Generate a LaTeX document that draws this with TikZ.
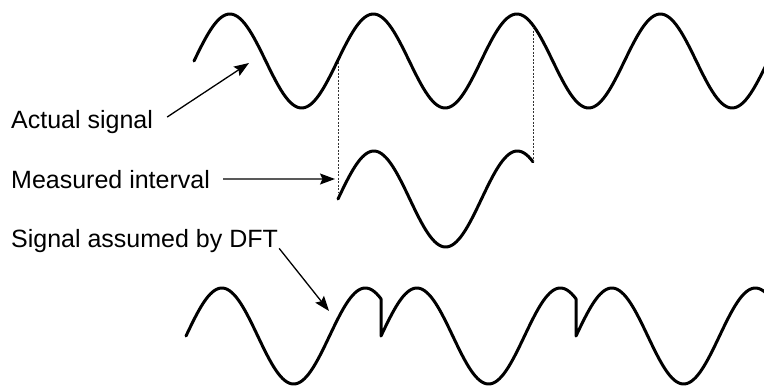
\documentclass[tikz,border=0pt]{standalone}
\usepackage{fontspec}
\setmainfont{Liberation Sans}
\usetikzlibrary{arrows.meta}

\begin{document}
\begin{tikzpicture}[x=1pt, y=-1pt, font=\fontsize{25}{30}\selectfont,
  wave/.style={line width=3pt, line join=round, line cap=round},
  pointer/.style={-{Stealth[length=15pt, width=11pt, inset=2.5pt]}, line width=1.3pt},
  cut/.style={line width=1pt, dash pattern=on 2pt off 1.5pt, black!80},
  lab/.style={anchor=base west, inner sep=0pt}]
  \useasboundingbox (0,0) rectangle (764,386);
  % actual signal (period 143.5, so 2.5087 deg per unit)
  \draw[wave, domain=194:770, samples=240] plot (\x, {61-47*sin(2.5087*(\x-194))});
  % measured interval
  \draw[wave, domain=338:533, samples=90] plot (\x, {199-48*sin(2.5087*(\x-338))});
  % the interval repeated, as the DFT sees it
  \draw[wave, samples=90] plot[domain=186:381] (\x, {336-48*sin(2.5087*(\x-186))})
    -- plot[domain=381:576] (\x, {336-48*sin(2.5087*(\x-381))})
    -- plot[domain=576:770] (\x, {336-48*sin(2.5087*(\x-576))});
  % ends of the interval
  \coordinate (cutL-top) at (338,62);
  \coordinate (cutL-bot) at (338,193);
  \coordinate (cutR-top) at (533,27);
  \coordinate (cutR-bot) at (533,162);
  \draw[cut] (cutL-top) -- (cutL-bot);
  \draw[cut] (cutR-top) -- (cutR-bot);
  % labels
  \node[lab] (actual) at (11,128) {Actual signal};
  \node[lab] (measured) at (11,188) {Measured interval};
  \node[lab] (assumed) at (11,247) {Signal assumed by DFT};
  \coordinate (actual-tip) at (249,63);
  \coordinate (measured-tip) at (335,179);
  \coordinate (assumed-tip) at (329,311);
  \draw[pointer] ([shift={(14pt,4.5pt)}]actual.east) -- (actual-tip);
  \draw[pointer] ([xshift=13pt]measured.east) -- (measured-tip);
  \draw[pointer] ([shift={(1pt,4pt)}]assumed.south east) -- (assumed-tip);
\end{tikzpicture}
\end{document}
